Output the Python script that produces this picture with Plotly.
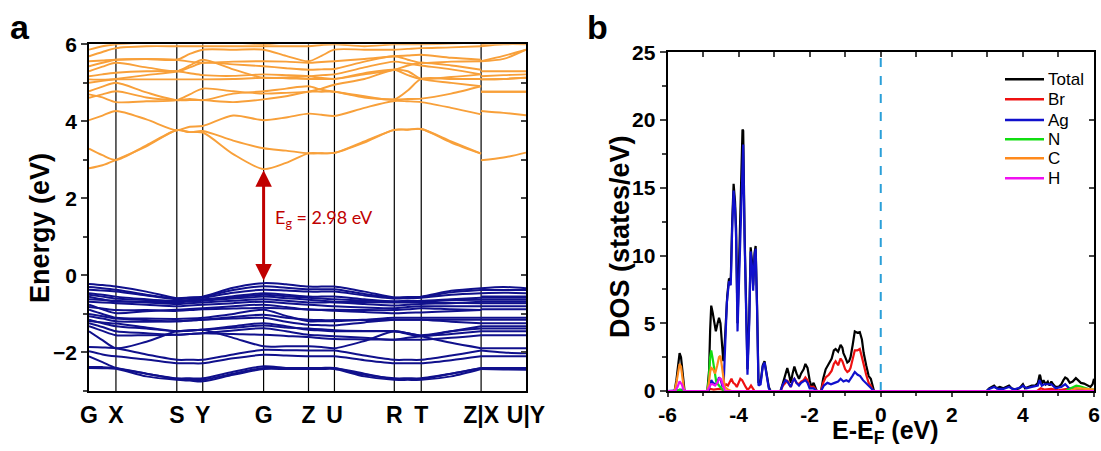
import plotly.graph_objects as go

# ---------------- Panel a : band structure ----------------
K_LABELS = ["G", "X", "S", "Y", "G", "Z", "U", "R", "T", "Z|X", "U|Y"]
K_POS = [0, 27, 88, 114, 175, 220, 246, 306, 333, 393, 438]
# sampled k positions: main path G..Z (19 points), then X..U segment (3 points)
K_MAIN = [0, 13.5, 27, 57.5, 88, 101, 114, 144.5, 175, 197.5, 220, 233, 246, 276, 306, 319.5, 333, 363, 393]
K_XU = [393, 415.5, 438]

CB = [
    [2.78, 2.86, 3.00, 3.35, 3.77, 3.72, 3.71, 3.15, 2.76, 2.92, 3.17, 3.17, 3.18, 3.45, 3.78, 3.78, 3.80, 3.45, 3.16, 2.99, 3.06, 3.19],
    [3.29, 3.12, 3.00, 3.38, 3.77, 3.72, 3.75, 3.50, 3.30, 3.24, 3.17, 3.17, 3.18, 3.48, 3.78, 3.79, 3.80, 3.48, 3.16, 4.27, 4.22, 4.16],
    [4.03, 4.15, 4.27, 4.05, 3.77, 3.86, 3.88, 4.15, 4.03, 4.10, 4.20, 4.17, 4.14, 4.35, 4.53, 4.52, 4.50, 4.35, 4.18, 4.77, 4.77, 4.77],
    [4.61, 4.70, 4.78, 4.62, 4.55, 4.55, 4.55, 4.50, 4.57, 4.65, 4.77, 4.77, 4.77, 4.62, 4.57, 4.58, 4.59, 4.72, 4.91, 5.09, 5.10, 5.13],
    [4.78, 4.90, 5.00, 4.75, 4.55, 4.58, 4.55, 4.72, 4.78, 4.85, 4.91, 4.82, 4.77, 4.65, 4.57, 4.80, 5.10, 5.10, 5.10, 5.17, 5.20, 5.22],
    [5.09, 5.08, 5.09, 5.09, 5.09, 5.09, 5.09, 5.10, 5.13, 5.12, 5.10, 5.10, 5.10, 5.25, 5.34, 5.20, 5.10, 5.15, 5.22, 5.30, 5.30, 5.30],
    [5.17, 5.22, 5.26, 5.30, 5.30, 5.25, 5.20, 5.18, 5.22, 5.20, 5.17, 5.13, 5.10, 5.22, 5.34, 5.45, 5.52, 5.45, 5.34, 5.56, 5.70, 5.86],
    [5.30, 5.42, 5.52, 5.40, 5.30, 5.40, 5.52, 5.48, 5.43, 5.38, 5.34, 5.35, 5.36, 5.55, 5.69, 5.60, 5.52, 5.55, 5.56, 5.56, 5.62, 5.86],
    [5.43, 5.52, 5.60, 5.62, 5.60, 5.55, 5.52, 5.55, 5.56, 5.55, 5.52, 5.54, 5.56, 5.62, 5.69, 5.71, 5.73, 5.65, 5.60, 5.95, 6.00, 6.00],
    [5.56, 5.58, 5.60, 5.62, 5.60, 5.75, 5.86, 5.86, 5.86, 5.70, 5.56, 5.70, 5.86, 5.86, 5.86, 5.88, 5.90, 5.92, 5.95, 6.00, 6.05, 6.05],
    [5.69, 5.80, 5.90, 5.95, 5.95, 5.95, 5.95, 5.95, 5.95, 5.95, 5.95, 5.98, 6.00, 5.95, 6.00, 6.00, 6.00, 6.02, 6.05, 6.10, 6.10, 6.10],
    [5.86, 5.95, 6.00, 6.05, 6.10, 6.10, 6.10, 6.05, 6.00, 6.05, 6.10, 6.10, 6.10, 6.10, 6.10, 6.10, 6.10, 6.10, 6.10, 6.10, 6.10, 6.10],
    [4.70, 4.62, 4.50, 4.52, 4.55, 4.70, 4.85, 4.78, 4.72, 4.74, 4.77, 4.85, 4.95, 5.10, 5.34, 5.30, 5.10, 5.00, 4.91, 4.77, 4.77, 4.77],
    [5.00, 5.05, 5.10, 5.20, 5.30, 5.45, 5.60, 5.35, 5.13, 5.14, 5.17, 5.20, 5.22, 5.40, 5.55, 5.50, 5.45, 5.35, 5.22, 5.09, 5.10, 5.13],
]

VB = [
    [-0.22, -0.25, -0.29, -0.42, -0.59, -0.57, -0.55, -0.32, -0.20, -0.23, -0.29, -0.29, -0.29, -0.42, -0.57, -0.56, -0.55, -0.40, -0.33, -0.33, -0.30, -0.33],
    [-0.30, -0.33, -0.37, -0.50, -0.60, -0.58, -0.56, -0.38, -0.28, -0.32, -0.36, -0.36, -0.36, -0.48, -0.58, -0.57, -0.56, -0.44, -0.38, -0.38, -0.38, -0.38],
    [-0.37, -0.39, -0.42, -0.52, -0.62, -0.60, -0.58, -0.45, -0.37, -0.39, -0.42, -0.42, -0.42, -0.52, -0.60, -0.59, -0.58, -0.50, -0.46, -0.46, -0.45, -0.46],
    [-0.46, -0.50, -0.55, -0.62, -0.68, -0.65, -0.63, -0.54, -0.46, -0.50, -0.55, -0.55, -0.55, -0.62, -0.68, -0.68, -0.68, -0.64, -0.63, -0.55, -0.55, -0.55],
    [-0.50, -0.55, -0.60, -0.64, -0.66, -0.64, -0.62, -0.57, -0.50, -0.54, -0.58, -0.60, -0.62, -0.65, -0.67, -0.66, -0.66, -0.62, -0.58, -0.58, -0.58, -0.58],
    [-0.55, -0.62, -0.68, -0.68, -0.70, -0.68, -0.66, -0.60, -0.55, -0.59, -0.63, -0.66, -0.68, -0.69, -0.70, -0.70, -0.70, -0.71, -0.72, -0.63, -0.63, -0.63],
    [-0.62, -0.64, -0.66, -0.70, -0.74, -0.72, -0.70, -0.66, -0.62, -0.66, -0.70, -0.70, -0.70, -0.74, -0.78, -0.76, -0.74, -0.72, -0.68, -0.68, -0.68, -0.68],
    [-0.68, -0.70, -0.72, -0.76, -0.80, -0.78, -0.76, -0.72, -0.68, -0.72, -0.76, -0.78, -0.80, -0.83, -0.85, -0.82, -0.80, -0.80, -0.80, -0.72, -0.72, -0.72],
    [-0.76, -0.88, -0.98, -0.93, -0.89, -0.87, -0.85, -0.80, -0.76, -0.82, -0.89, -0.89, -0.89, -0.90, -0.90, -0.88, -0.85, -0.88, -0.90, -0.80, -0.80, -0.80],
    [-0.82, -0.86, -0.90, -0.90, -0.92, -0.90, -0.88, -0.86, -0.84, -0.86, -0.88, -0.90, -0.92, -0.95, -0.98, -0.97, -0.96, -0.93, -0.90, -0.88, -0.88, -0.88],
    [-0.89, -1.00, -1.10, -1.12, -1.13, -1.12, -1.10, -1.00, -0.89, -1.05, -1.19, -1.19, -1.19, -1.15, -1.10, -1.10, -1.10, -1.10, -1.10, -1.10, -1.10, -1.10],
    [-1.00, -1.06, -1.12, -1.16, -1.19, -1.17, -1.15, -1.08, -1.02, -1.10, -1.15, -1.16, -1.16, -1.16, -1.15, -1.15, -1.15, -1.15, -1.15, -1.15, -1.15, -1.15],
    [-1.06, -1.12, -1.19, -1.20, -1.19, -1.17, -1.15, -1.12, -1.10, -1.20, -1.28, -1.29, -1.30, -1.22, -1.15, -1.15, -1.15, -1.20, -1.24, -1.24, -1.24, -1.24],
    [-1.15, -1.24, -1.32, -1.38, -1.45, -1.43, -1.41, -1.32, -1.24, -1.32, -1.41, -1.43, -1.45, -1.45, -1.45, -1.52, -1.58, -1.45, -1.32, -1.32, -1.32, -1.32],
    [-1.18, -1.22, -1.25, -1.35, -1.45, -1.43, -1.41, -1.36, -1.30, -1.35, -1.38, -1.40, -1.42, -1.44, -1.45, -1.50, -1.55, -1.45, -1.38, -1.38, -1.38, -1.38],
    [-1.24, -1.34, -1.45, -1.50, -1.54, -1.52, -1.50, -1.43, -1.37, -1.45, -1.54, -1.56, -1.58, -1.62, -1.67, -1.62, -1.58, -1.52, -1.45, -1.45, -1.45, -1.45],
    [-1.32, -1.44, -1.55, -1.55, -1.54, -1.52, -1.50, -1.52, -1.54, -1.57, -1.60, -1.63, -1.65, -1.66, -1.67, -1.67, -1.67, -1.62, -1.55, -1.55, -1.55, -1.55],
    [-1.45, -1.68, -1.89, -1.72, -1.45, -1.43, -1.41, -1.62, -1.84, -1.84, -1.84, -1.86, -1.89, -1.70, -1.45, -1.50, -1.58, -1.75, -1.89, -1.89, -1.89, -1.89],
    [-1.86, -1.87, -1.89, -2.05, -2.19, -2.19, -2.19, -2.05, -1.93, -1.94, -1.95, -1.95, -1.95, -2.08, -2.19, -2.19, -2.19, -2.08, -1.95, -1.95, -2.00, -2.02],
    [-1.97, -2.05, -2.10, -2.18, -2.28, -2.28, -2.28, -2.15, -2.06, -2.08, -2.10, -2.10, -2.10, -2.20, -2.28, -2.28, -2.28, -2.20, -2.10, -2.10, -2.10, -2.10],
    [-2.10, -2.25, -2.40, -2.55, -2.67, -2.67, -2.67, -2.50, -2.36, -2.40, -2.41, -2.41, -2.41, -2.58, -2.67, -2.67, -2.67, -2.55, -2.41, -2.41, -2.41, -2.41],
    [-2.38, -2.38, -2.40, -2.55, -2.69, -2.70, -2.71, -2.55, -2.40, -2.40, -2.40, -2.40, -2.40, -2.55, -2.69, -2.69, -2.69, -2.55, -2.40, -2.40, -2.40, -2.40],
    [-2.40, -2.41, -2.42, -2.62, -2.71, -2.73, -2.75, -2.58, -2.43, -2.43, -2.43, -2.43, -2.43, -2.62, -2.71, -2.71, -2.71, -2.62, -2.43, -2.43, -2.44, -2.45],
]

EG_TEXT = "E<sub>g</sub> = 2.98 eV"
EG_VBM, EG_CBM = -0.17, 2.73

# ---------------- Panel b : DOS ----------------
TOTAL_E = [-6.0, -5.80, -5.75, -5.70, -5.66, -5.62, -5.58, -5.52, -4.88, -4.83, -4.80, -4.77, -4.73, -4.68, -4.64,
           -4.59, -4.55, -4.51, -4.47, -4.43, -4.40, -4.36, -4.32, -4.27, -4.22, -4.18, -4.14, -4.10, -4.07, -4.03,
           -3.98, -3.93, -3.89, -3.87, -3.83, -3.79, -3.75, -3.70, -3.66, -3.62, -3.59, -3.55, -3.52, -3.48, -3.44,
           -3.38, -3.32, -3.27, -3.22, -3.15, -3.10, -2.82, -2.75, -2.68, -2.63, -2.58, -2.53, -2.48, -2.43, -2.37,
           -2.30, -2.24, -2.17, -2.12, -2.06, -2.00, -1.95, -1.89, -1.84, -1.80, -1.68, -1.62, -1.55, -1.46, -1.38,
           -1.32, -1.27, -1.20, -1.13, -1.08, -1.05, -1.00, -0.94, -0.89, -0.85, -0.79, -0.73, -0.66, -0.59, -0.53,
           -0.48, -0.41, -0.34, -0.28, -0.23, -0.19, 2.98, 3.05, 3.12, 3.19, 3.26, 3.35, 3.45, 3.55, 3.61, 3.68,
           3.78, 3.90, 3.96, 4.00, 4.06, 4.15, 4.25, 4.35, 4.42, 4.47, 4.49, 4.53, 4.58, 4.64, 4.70, 4.75, 4.80,
           4.85, 4.92, 5.00, 5.08, 5.14, 5.19, 5.25, 5.32, 5.40, 5.49, 5.55, 5.63, 5.72, 5.82, 5.90, 5.96, 6.0]
TOTAL_D = [0, 0, 0.8, 2.2, 2.8, 2.5, 1.5, 0, 0, 1.5, 4.5, 6.3, 5.8, 4.8, 4.4,
           5.0, 5.4, 5.0, 3.5, 2.2, 3.0, 5.0, 7.0, 8.3, 8.2, 12.5, 15.3, 14.0, 12.0, 5.0,
           9.5, 15.0, 19.3, 19.2, 11.5, 5.5, 1.6, 5.5, 10.6, 9.5, 7.8, 10.2, 10.7, 6.3, 0.6,
           0.7, 1.9, 2.2, 1.3, 0.3, 0, 0, 0.6, 1.2, 1.7, 1.2, 0.6, 1.3, 1.8, 1.3,
           0.9, 1.3, 1.6, 2.0, 1.7, 0.8, 0.3, 0.6, 0.3, 0, 0, 0.9, 1.6, 2.0, 2.4,
           3.0, 3.1, 2.9, 3.4, 3.2, 2.8, 2.5, 2.1, 2.2, 2.5, 3.4, 4.4, 4.3, 4.35, 3.8,
           2.8, 1.9, 1.1, 0.9, 0.3, 0, 0, 0.2, 0.3, 0.4, 0.2, 0.3, 0.2, 0.3, 0.4, 0.2,
           0.1, 0.2, 0.4, 0.5, 0.2, 0.3, 0.4, 0.4, 0.6, 1.2, 1.1, 0.5, 0.8, 0.5, 0.7, 0.4, 0.7,
           0.5, 0.3, 0.3, 0.5, 0.8, 1.0, 0.9, 0.6, 0.7, 0.95, 0.8, 0.6, 0.55, 0.4, 0.3, 0.5, 0.9]

BR_E = [-6.0, -4.88, -4.80, -4.70, -4.55, -4.45, -4.40, -4.35, -4.30, -4.25, -4.20, -4.15, -4.10, -4.05, -4.00,
        -3.95, -3.90, -3.85, -3.80, -3.75, -3.70, -3.65, -3.60, -3.55, -2.82, -2.75, -2.68, -2.63, -2.58, -2.53,
        -2.48, -2.43, -2.37, -2.30, -2.24, -2.17, -2.12, -2.06, -2.00, -1.89, -1.80, -1.68, -1.62, -1.55, -1.46,
        -1.38, -1.32, -1.27, -1.20, -1.13, -1.08, -1.00, -0.94, -0.89, -0.85, -0.79, -0.73, -0.66, -0.59, -0.53,
        -0.48, -0.41, -0.34, -0.28, -0.23, -0.19, 4.40, 4.50, 4.60, 4.80, 5.00, 5.20, 5.50, 5.80, 6.0]
BR_D = [0, 0, 0.15, 0.1, 0.15, 0.1, 0.3, 0.5, 0.4, 0.7, 0.9, 0.6, 0.5, 0.3, 0.6,
        0.9, 0.8, 0.5, 0.3, 0.1, 0.2, 0.4, 0.2, 0, 0, 0.4, 0.6, 0.8, 0.5, 0.3,
        0.7, 0.9, 0.6, 0.5, 0.7, 0.8, 1.0, 0.8, 0.3, 0.3, 0, 0, 0.6, 1.0, 1.2,
        1.5, 2.0, 2.2, 1.9, 2.4, 2.2, 1.6, 1.4, 1.5, 1.7, 2.4, 3.0, 3.0, 3.1, 2.5,
        1.9, 1.2, 0.6, 0.4, 0.1, 0, 0, 0.2, 0.1, 0.15, 0.05, 0.15, 0.2, 0.1, 0]

AG_E = [-6.0, -5.80, -5.72, -5.62, -5.52, -4.85, -4.80, -4.77, -4.72, -4.66, -4.60, -4.55, -4.50, -4.45, -4.42,
        -4.38, -4.33, -4.27, -4.22, -4.18, -4.14, -4.10, -4.07, -4.03, -3.98, -3.93, -3.89, -3.87, -3.83, -3.79,
        -3.75, -3.70, -3.66, -3.62, -3.59, -3.55, -3.52, -3.48, -3.44, -3.38, -3.32, -3.27, -3.22, -3.15, -3.10,
        -2.82, -2.75, -2.68, -2.63, -2.58, -2.53, -2.48, -2.43, -2.37, -2.30, -2.24, -2.17, -2.12, -2.06, -2.00,
        -1.89, -1.80, -1.68, -1.60, -1.50, -1.40, -1.30, -1.20, -1.13, -1.05, -0.97, -0.90, -0.80, -0.73, -0.65,
        -0.58, -0.50, -0.42, -0.32, -0.22, -0.19, 2.98, 3.05, 3.19, 3.30, 3.45, 3.61, 3.75, 3.96, 4.00, 4.10,
        4.25, 4.42, 4.47, 4.53, 4.60, 4.70, 4.80, 4.92, 5.08, 5.19, 5.30, 5.45, 5.60, 6.0]
AG_D = [0, 0, 0.05, 0.1, 0, 0, 0.5, 0.8, 0.6, 0.5, 0.6, 1.0, 0.8, 0.3, 0.5,
        3.0, 6.5, 8.1, 7.8, 12.0, 14.8, 13.5, 11.3, 4.4, 8.8, 14.0, 18.0, 18.2, 11.0, 5.0,
        1.2, 5.0, 10.3, 9.1, 7.4, 10.0, 10.5, 6.0, 0.4, 0.5, 1.8, 2.1, 1.2, 0.2, 0,
        0, 0.5, 0.8, 0.7, 0.5, 0.3, 0.7, 0.9, 0.6, 0.4, 0.6, 0.7, 0.8, 0.6, 0.2,
        0.2, 0, 0, 0.4, 0.6, 0.5, 0.6, 0.7, 0.9, 0.7, 0.8, 0.7, 1.1, 1.4, 1.2,
        1.1, 0.8, 0.6, 0.3, 0.1, 0, 0, 0.15, 0.3, 0.15, 0.15, 0.3, 0.1, 0.3, 0.4, 0.2,
        0.3, 0.4, 0.8, 0.4, 0.5, 0.5, 0.5, 0.2, 0.3, 0.5, 0.2, 0.1, 0.05, 0]

N_E = [-6.0, -5.75, -5.66, -5.55, -4.88, -4.84, -4.80, -4.77, -4.73, -4.68, -4.63, -4.58, -4.52, -4.45, -4.40,
       5.20, 5.35, 5.50, 5.60, 5.75, 5.90, 6.0]
N_D = [0, 0, 0.1, 0, 0, 0.8, 2.5, 3.0, 2.4, 1.4, 0.7, 0.5, 0.3, 0.1, 0,
       0, 0.2, 0.4, 0.35, 0.2, 0.1, 0.1]

C_E = [-6.0, -5.80, -5.75, -5.70, -5.66, -5.62, -5.58, -5.53, -4.88, -4.84, -4.80, -4.77, -4.72, -4.66, -4.60,
       -4.55, -4.51, -4.47, -4.43, -4.39, -4.30, -4.20, 5.30, 5.45, 5.60, 5.80, 6.0]
C_D = [0, 0, 0.6, 1.6, 2.0, 1.8, 1.0, 0, 0, 0.5, 1.4, 1.7, 1.6, 1.3, 1.9,
       2.5, 2.6, 1.8, 0.8, 0.3, 0.1, 0, 0, 0.15, 0.2, 0.15, 0.1]

H_E = [-6.0, -5.78, -5.72, -5.66, -5.60, -5.55, -5.50, -4.88, -4.84, -4.78, -4.72, -4.66, -4.60, -4.54, -4.50,
       -4.45, -4.40, -4.35, 6.0]
H_D = [0, 0, 0.3, 0.7, 0.5, 0.1, 0, 0, 0.2, 0.5, 0.5, 0.4, 0.6, 0.95, 0.9,
       0.5, 0.1, 0, 0]

DOS_SERIES = [
    ("Total", TOTAL_E, TOTAL_D, "#000000"),
    ("Br", BR_E, BR_D, "#ee1111"),
    ("Ag", AG_E, AG_D, "#1010cc"),
    ("N", N_E, N_D, "#11dd11"),
    ("C", C_E, C_D, "#ff8a1c"),
    ("H", H_E, H_D, "#f010f0"),
]

# ---------------- figure ----------------
W, H = 1101, 451
AX_A = (89, 526, 44.3, 391)      # left, right, top, bottom (px)
AX_B = (667.5, 1094, 52.3, 391)


def px_dom(a):
    l, r, t, b = a
    return [l / W, r / W], [1 - b / H, 1 - t / H]


xa_dom, ya_dom = px_dom(AX_A)
xb_dom, yb_dom = px_dom(AX_B)

fig = go.Figure()

# vertical high-symmetry lines
for kp in K_POS[1:-1]:
    fig.add_trace(go.Scatter(x=[kp, kp], y=[-3, 6], mode="lines",
                             line=dict(color="black", width=1.2),
                             xaxis="x", yaxis="y", showlegend=False, hoverinfo="skip"))


def band_xy(bands):
    xs, ys = [], []
    for b in bands:
        xs += K_MAIN + [None] + K_XU + [None]
        ys += b[:19] + [None] + b[19:] + [None]
    return xs, ys


for bands, col, lw in ((VB, "#10108c", 2.0), (CB, "#f8a03a", 1.9)):
    bx, by = band_xy(bands)
    fig.add_trace(go.Scatter(x=bx, y=by, mode="lines", connectgaps=False,
                             line=dict(color=col, width=lw, shape="spline", smoothing=0.8),
                             xaxis="x", yaxis="y", showlegend=False, hoverinfo="skip"))

# dummy trace for right-side inner ticks of panel a
fig.add_trace(go.Scatter(x=[None], y=[None], xaxis="x", yaxis="y3", showlegend=False))

# Fermi level dashed line in panel b
fig.add_trace(go.Scatter(x=[0, 0], y=[0, 25], mode="lines",
                         line=dict(color="#2a9fd8", width=2, dash="dash"),
                         xaxis="x2", yaxis="y2", showlegend=False, hoverinfo="skip"))

for name, e, d, col in DOS_SERIES:
    fig.add_trace(go.Scatter(x=e, y=d, mode="lines", name=name,
                             line=dict(color=col, width=2.2),
                             xaxis="x2", yaxis="y2", showlegend=False))

fig.add_trace(go.Scatter(x=[None], y=[None], xaxis="x4", yaxis="y4", showlegend=False))

tick_font = dict(family="Liberation Sans, Arial, sans-serif", size=21, color="black", weight="bold")
k_font = dict(family="Liberation Sans, Arial, sans-serif", size=23, color="black", weight="bold")
common = dict(automargin=False, showgrid=False, zeroline=False)

fig.update_layout(
    width=W, height=H, margin=dict(l=0, r=0, t=0, b=0, autoexpand=False),
    paper_bgcolor="white", plot_bgcolor="white", showlegend=False,
    xaxis=dict(domain=xa_dom, anchor="y", range=[K_POS[0], K_POS[-1]],
               tickvals=K_POS, ticktext=K_LABELS, ticks="outside", ticklen=2,
               tickcolor="rgba(0,0,0,0)", tickfont=k_font,
               showline=True, linecolor="black", linewidth=1.8, mirror=True, **common),
    yaxis=dict(domain=ya_dom, anchor="x", range=[-3, 6],
               tickvals=[-2, 0, 2, 4, 6], ticks="outside", ticklen=6, tickwidth=1.5,
               minor=dict(tickvals=[-3, -1, 1, 3, 5], ticks="outside", ticklen=4, tickwidth=1.5),
               tickfont=tick_font, showline=True, linecolor="black", linewidth=1.8, mirror=True, **common),
    yaxis3=dict(overlaying="y", anchor="x", side="right", range=[-3, 6],
                tickvals=[-2, -1, 0, 1, 2, 3, 4, 5], ticks="inside", ticklen=5, tickwidth=1.5,
                showticklabels=False, showline=False, **common),
    xaxis2=dict(domain=xb_dom, anchor="y2", range=[-6, 6], tickvals=[-6, -4, -2, 0, 2, 4, 6],
                ticktext=["-6", "-4", "-2", "0", "2", "4", "6"],
                ticks="outside", ticklen=4, tickwidth=1.5,
                minor=dict(tickvals=[-5, -3, -1, 1, 3, 5], ticks="outside", ticklen=3, tickwidth=1.5),
                tickfont=tick_font, showline=True, linecolor="black", linewidth=1.8, mirror=True, **common),
    yaxis2=dict(domain=yb_dom, anchor="x2", range=[0, 25], tickvals=[0, 5, 10, 15, 20, 25],
                ticks="outside", ticklen=6, tickwidth=1.5,
                minor=dict(tickvals=[2.5, 7.5, 12.5, 17.5, 22.5], ticks="outside", ticklen=4, tickwidth=1.5),
                tickfont=tick_font, showline=True, linecolor="black", linewidth=1.8, mirror=True, **common),
    xaxis4=dict(overlaying="x2", anchor="y2", side="top", range=[-6, 6],
                tickvals=[-5, -4, -3, -2, -1, 0, 1, 2, 3, 4, 5], ticks="inside", ticklen=5, tickwidth=1.5,
                showticklabels=False, showline=False, **common),
    yaxis4=dict(overlaying="y2", anchor="x2", side="right", range=[0, 25],
                tickvals=[5, 10, 15, 20], ticks="inside", ticklen=5, tickwidth=1.5,
                showticklabels=False, showline=False, **common),
)

title_font = dict(family="Liberation Sans, Arial, sans-serif", size=27, color="black", weight="bold")


def pann(text, px, py, **kw):
    d = dict(text=text, x=px / W, y=1 - py / H, xref="paper", yref="paper", showarrow=False,
             xanchor="center", yanchor="middle")
    d.update(kw)
    return d


anns = [
    pann("a", 20, 27, font=dict(family="Liberation Sans, Arial", size=34, color="black", weight="bold")),
    pann("b", 597, 27, font=dict(family="Liberation Sans, Arial", size=34, color="black", weight="bold")),
    pann("Energy (eV)", 40, 228, textangle=-90, font=title_font),
    pann("DOS (states/eV)", 620, 237, textangle=-90, font=title_font),
    pann("E-E<sub>F</sub> (eV)", 885, 432, font=dict(family="Liberation Sans, Arial, sans-serif", size=25,
                                                      color="black", weight="bold")),
    dict(x=K_POS[4], y=EG_CBM, ax=K_POS[4], ay=EG_VBM, xref="x", yref="y", axref="x", ayref="y",
         text="", showarrow=True, arrowhead=2, arrowside="end+start", arrowsize=1.1,
         arrowwidth=3, arrowcolor="#c00000", standoff=0, startstandoff=0),
    dict(text=EG_TEXT, x=184, y=1.49, xref="x", yref="y", xanchor="left", yanchor="middle", showarrow=False,
         font=dict(family="Lato, Liberation Sans, sans-serif", size=18, color="#c00000")),
]

# manual legend
leg_rows = [79.3, 99.3, 120, 139.3, 158.3, 178.3]
shapes = []
for (name, e, d, col), yy in zip(DOS_SERIES, leg_rows):
    shapes.append(dict(type="line", xref="paper", yref="paper",
                       x0=1005 / W, x1=1044 / W, y0=1 - yy / H, y1=1 - yy / H,
                       line=dict(color=col, width=2.5)))
    anns.append(pann(name, 1046, yy, xanchor="left",
                     font=dict(family="Liberation Sans, Arial", size=17, color="black")))

fig.update_layout(annotations=anns, shapes=shapes)
fig.write_html("out.html")
